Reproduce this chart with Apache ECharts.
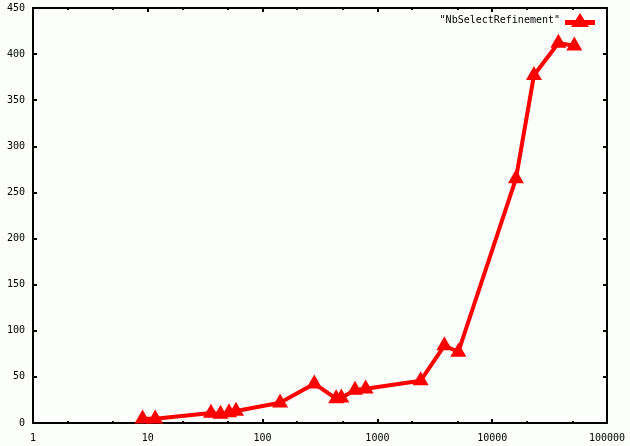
<!DOCTYPE html>
<html>
<head>
<meta charset="utf-8">
<script src="https://cdn.jsdelivr.net/npm/echarts@6/dist/echarts.min.js"></script>
<style>
html,body{margin:0;padding:0;background:#fcfefc;}
#main{width:630px;height:446px;}
</style>
</head>
<body>
<div id="main"></div>
<script>
var seriesName = '"NbSelectRefinement"';
var xValues = [9, 11.6, 35.5, 43, 51, 58.7, 142, 282, 437, 485, 638, 790, 2380, 3830, 5070, 16100, 23100, 37700, 51900];
var yValues = [4.5, 4.5, 10.8, 9.7, 11.2, 13, 22, 42.6, 26.4, 27.4, 35.8, 37.2, 45.9, 84, 77, 265, 377, 412, 409];
var xMajorTicks = [1, 10, 100, 1000, 10000, 100000];
var xMinorTicks = [2, 5, 20, 50, 200, 500, 2000, 5000, 20000, 50000];
var yTicks = [0, 50, 100, 150, 200, 250, 300, 350, 400, 450];

var chart = echarts.init(document.getElementById('main'), null, {renderer: 'canvas'});
var fontFamily = 'DejaVu Sans Mono';
var axisLineStyle = {color: '#000', width: 2};

function xAxisDef(pos, showLabel, ticks, len, main) {
  return {
    type: 'log', logBase: 10, min: 1, max: 100000, position: pos,
    axisLine: {show: main, lineStyle: axisLineStyle, onZero: false},
    axisTick: {show: true, inside: true, length: len, lineStyle: {color: '#000', width: 2}, customValues: ticks},
    axisLabel: {show: showLabel, customValues: ticks, color: '#000', fontFamily: fontFamily, fontSize: 10, margin: 10,
      formatter: function (v) { return String(Math.round(v)); }},
    splitLine: {show: false}, minorTick: {show: false}
  };
}

var data = xValues.map(function (x, i) { return [x, yValues[i]]; });

chart.setOption({
  backgroundColor: '#fcfefc',
  animation: false,
  grid: {left: 33, right: 23, top: 8, bottom: 23, containLabel: false},
  legend: {
    data: [{name: seriesName, icon: 'path://M0,7 L30,7 L30,12 L0,12 Z M15,0 L24,14 L6,14 Z'}],
    right: 30, top: 8, orient: 'horizontal', align: 'right',
    itemWidth: 30, itemHeight: 14, itemGap: 8,
    itemStyle: {color: '#ff0000'},
    textStyle: {color: '#000', fontFamily: fontFamily, fontSize: 10}
  },
  xAxis: [
    xAxisDef('bottom', true, xMajorTicks, 4, true),
    xAxisDef('top', false, xMajorTicks, 4, true),
    xAxisDef('bottom', false, xMinorTicks, 2, false),
    xAxisDef('top', false, xMinorTicks, 2, false)
  ],
  yAxis: [
    {type: 'value', min: 0, max: 450, interval: 50, position: 'left',
      axisLine: {show: true, lineStyle: axisLineStyle},
      axisTick: {show: true, inside: true, length: 4, lineStyle: {color: '#000', width: 2}},
      axisLabel: {color: '#000', fontFamily: fontFamily, fontSize: 10, margin: 8,
        customValues: yTicks},
      splitLine: {show: false}},
    {type: 'value', min: 0, max: 450, interval: 50, position: 'right',
      axisLine: {show: true, lineStyle: axisLineStyle},
      axisTick: {show: true, inside: true, length: 4, lineStyle: {color: '#000', width: 2}},
      axisLabel: {show: false},
      splitLine: {show: false}}
  ],
  series: [{
    name: seriesName, type: 'line', xAxisIndex: 0, yAxisIndex: 0,
    data: data,
    symbol: 'triangle', symbolSize: [16, 14], symbolOffset: [0, -2.3], showAllSymbol: true,
    lineStyle: {color: '#ff0000', width: 4},
    itemStyle: {color: '#ff0000', borderWidth: 0},
    emphasis: {disabled: true}
  }]
});
</script>
</body>
</html>
